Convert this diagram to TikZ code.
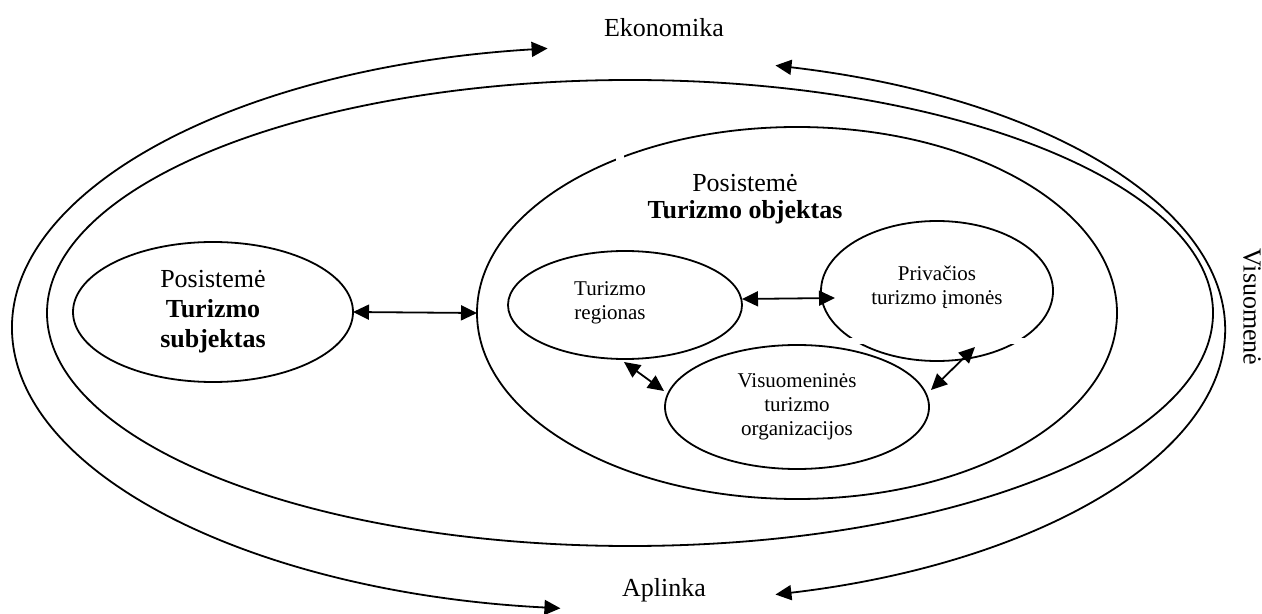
\documentclass[tikz,border=0pt]{standalone}
\usepackage{fontspec}
\setmainfont{Liberation Serif}
\usetikzlibrary{shapes.geometric,arrows.meta,calc}
\begin{document}
\begin{tikzpicture}[x=0.5pt,y=-0.5pt,
  ell/.style={draw, ellipse, line width=0.9pt, inner sep=0pt, outer sep=0pt, align=center},
  bigtxt/.style={font=\fontsize{13}{15}\selectfont, inner sep=0pt},
  smalltxt/.style={font=\fontsize{10.5}{12}\selectfont, inner sep=0pt, align=center},
  dbl/.style={{Triangle[length=8pt,width=7.5pt]}-{Triangle[length=8pt,width=7.5pt]}, line width=0.9pt},
]
\useasboundingbox (0,0) rectangle (1262,614);

% ellipses
\node[ell, minimum width=583pt, minimum height=233pt] (sys) at (630,313) {};
\node[ell, minimum width=320pt, minimum height=186pt] (obj) at (797,313) {};
\node[ell, bigtxt, align=center, minimum width=140pt, minimum height=70pt] (subj) at (213,312)
  {Posistemė\\\textbf{Turizmo}\\\textbf{subjektas}};
\node[ell, minimum width=117pt, minimum height=54pt] (reg) at (625,305) {};
\node[ell, smalltxt, minimum width=116pt, minimum height=70pt] (priv) at (937,291) {};
\node[ell, smalltxt, minimum width=132pt, minimum height=62pt] (vis) at (797,407)
  {Visuomeninės\\turizmo\\organizacijos};

% small gaps in the outlines
\fill[white] (845,338.5) rectangle (1030,344);
\fill[white] (616,151) rectangle (624,161);

% texts
\node[smalltxt] (regtxt) at (610,303) {Turizmo\\regionas};
\node[smalltxt] (privtxt) at (937,287) {Privačios\\turizmo įmonės};
\node[font=\fontsize{13}{13.5}\selectfont, inner sep=0pt, align=center] (objtxt) at (745,199)
  {Posistemė\\\textbf{Turizmo objektas}};
\node[bigtxt] (eko) at (664,28) {Ekonomika};
\node[bigtxt] (apl) at (664,590) {Aplinka};
\node[bigtxt, rotate=-90] (vsm) at (1252,307) {Visuomenė};

% outer arcs
\draw[dbl] (628,328) ++(262.5:616 and 282)
  arc[start angle=262.5, end angle=96.3, x radius=616, y radius=282];
\draw[dbl] (628,330) ++(-75.7:597 and 273)
  arc[start angle=-75.7, end angle=75.7, x radius=597, y radius=273];

% connectors
\draw[dbl] (subj.east) -- (obj.west);
\draw[dbl] ($(reg.east)+(0,-6)$) -- ($(priv.west)+(14,7)$);
\draw[dbl] ($(reg.south)+(-1,3)$) -- ($(vis.west)+(-1,-16)$);
\draw[dbl] ($(priv.south)+(38,-14)$) -- ($(vis.east)+(2,-17)$);
\end{tikzpicture}
\end{document}
